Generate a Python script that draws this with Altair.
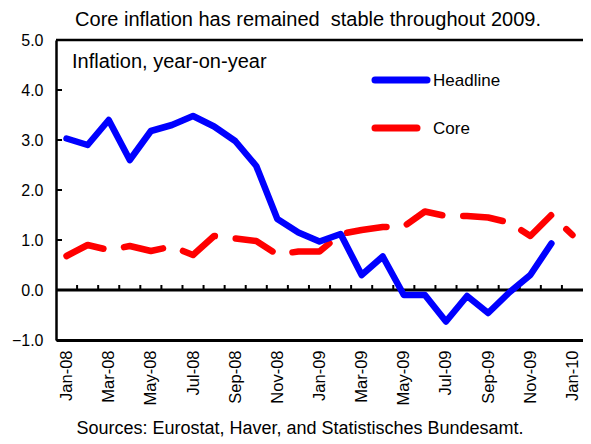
import json
import altair as alt
import pandas as pd

months = ["Jan-08", "Feb-08", "Mar-08", "Apr-08", "May-08", "Jun-08", "Jul-08", "Aug-08",
          "Sep-08", "Oct-08", "Nov-08", "Dec-08", "Jan-09", "Feb-09", "Mar-09", "Apr-09",
          "May-09", "Jun-09", "Jul-09", "Aug-09", "Sep-09", "Oct-09", "Nov-09", "Dec-09",
          "Jan-10"]
headline = [3.03, 2.90, 3.40, 2.60, 3.18, 3.30, 3.48, 3.27, 2.98, 2.48, 1.42, 1.15,
            0.97, 1.12, 0.30, 0.67, -0.10, -0.10, -0.63, -0.12, -0.46, -0.05, 0.30, 0.93]
core = [0.68, 0.90, 0.80, 0.88, 0.78, 0.87, 0.70, 1.08, 1.03, 0.98, 0.71, 0.77,
        0.77, 1.12, 1.20, 1.26, 1.27, 1.57, 1.48, 1.48, 1.45, 1.35, 1.08, 1.50, 1.10]
y_ticks = [-1, 0, 1, 2, 3, 4, 5]
label_months = list(range(0, len(months), 2))

FONT = "Liberation Sans"
W, H = 527, 300

df_h = pd.DataFrame({"m": list(range(len(headline))), "v": headline})
df_c = pd.DataFrame({"m": list(range(len(core))), "v": core})
df_b = pd.DataFrame({"b": [i + 0.5 for i in range(len(months) - 1)]})
df_yt = pd.DataFrame({"y": y_ticks})

xscale = alt.Scale(domain=[-0.5, len(months) - 0.5], nice=False, zero=False)
yscale = alt.Scale(domain=[-1, 5], nice=False, zero=False)

xaxis = alt.Axis(values=label_months, labelExpr=f"{json.dumps(months)}[datum.value]",
                 labelAngle=-90, labelFont=FONT, labelFontSize=16.5, labelColor="black",
                 labelPadding=10, ticks=False, grid=False, domainColor="black",
                 domainWidth=3, title=None, labelOverlap=False, labelBound=False,
                 labelFlush=False)
yaxis = alt.Axis(values=y_ticks, format=".1f", labelFont=FONT, labelFontSize=16,
                 labelColor="black", labelPadding=13, ticks=False, grid=False,
                 domainColor="black", domainWidth=2.5, title=None)

lineH = alt.Chart(df_h).mark_line(color="#0000FF", strokeWidth=6.5, strokeCap="round",
                                  strokeJoin="round").encode(
    x=alt.X("m:Q", scale=xscale, axis=xaxis),
    y=alt.Y("v:Q", scale=yscale, axis=yaxis))

lineC = alt.Chart(df_c).mark_line(color="#FF0000", strokeWidth=6.5, strokeCap="round",
                                  strokeJoin="round", strokeDash=[40, 21]).encode(
    x=alt.X("m:Q", scale=xscale),
    y=alt.Y("v:Q", scale=yscale))

zero = alt.Chart(pd.DataFrame({"y": [0]})).mark_rule(color="black", strokeWidth=3).encode(
    y=alt.Y("y:Q", scale=yscale))
top = alt.Chart(pd.DataFrame({"y": [5]})).mark_rule(color="black", strokeWidth=2.5).encode(
    y=alt.Y("y:Q", scale=yscale))

xticks = alt.Chart(df_b).mark_rule(color="black", strokeWidth=2).encode(
    x=alt.X("b:Q", scale=xscale), y=alt.datum(0), y2=alt.datum(0.1))
yticks = alt.Chart(df_yt).mark_rule(color="black", strokeWidth=2).encode(
    y=alt.Y("y:Q", scale=yscale), x=alt.value(0), x2=alt.value(6))

def txt(s, x, y, size, align="left", baseline="alphabetic"):
    return alt.Chart(pd.DataFrame({"t": [s]})).mark_text(
        font=FONT, fontSize=size, color="black", align=align, baseline=baseline).encode(
        text="t:N", x=alt.value(x), y=alt.value(y))

title = txt("Core inflation has remained\u00a0 stable throughout 2009.", 252, -14, 20, align="center")
inner = txt("Inflation, year-on-year", 16, 28, 20)
source = txt("Sources: Eurostat, Haver, and Statistisches Bundesamt.", 244, 394, 18, align="center")
lab_h = txt("Headline", 377, 46, 17)
lab_c = txt("Core", 377, 94, 17)

leg_h = alt.Chart(pd.DataFrame({"k": [1]})).mark_rule(
    color="#0000FF", strokeWidth=7, strokeCap="round").encode(
    x=alt.value(319), x2=alt.value(371), y=alt.value(40))
leg_c = alt.Chart(pd.DataFrame({"k": [1]})).mark_rule(
    color="#FF0000", strokeWidth=7, strokeCap="round").encode(
    x=alt.value(319), x2=alt.value(361), y=alt.value(88))

chart = alt.layer(
    zero, top, xticks, yticks, lineC, lineH, leg_h, leg_c, title, inner, source, lab_h, lab_c
).properties(
    width=W, height=H,
    autosize=alt.AutoSizeParams(type="none"),
    padding={"left": 48, "top": 32, "right": 0, "bottom": 98},
).configure_view(stroke=None).configure(background="white")

chart.save("out.html", embed_options={"renderer": "svg", "actions": False})
